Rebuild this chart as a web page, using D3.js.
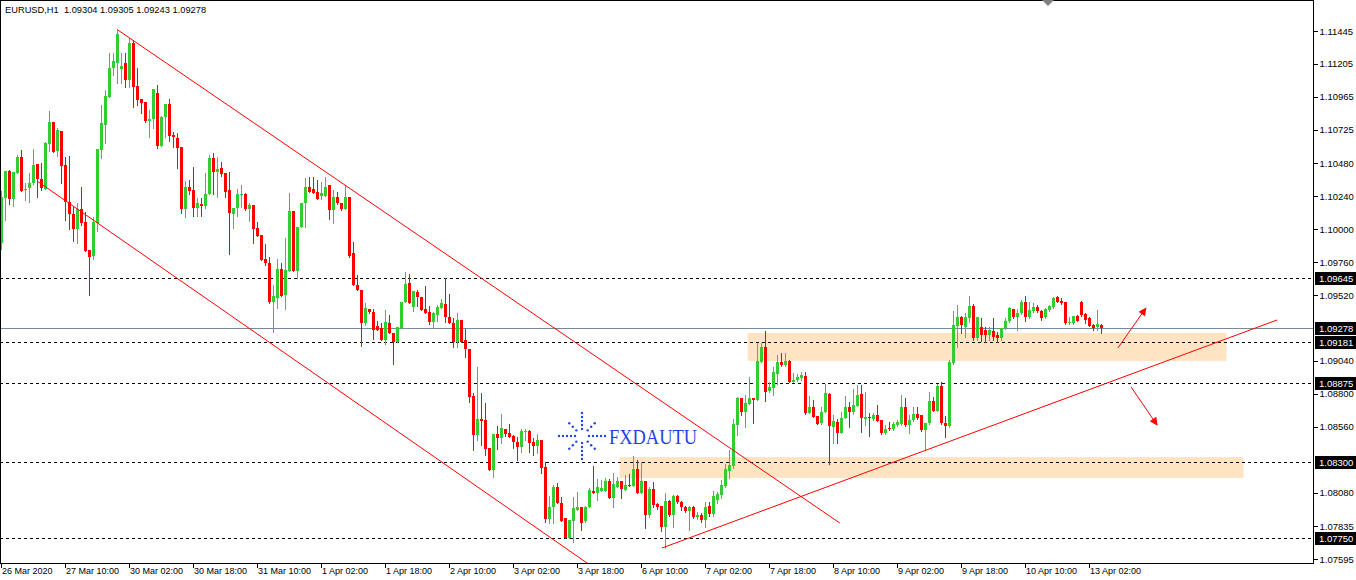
<!DOCTYPE html>
<html><head><meta charset="utf-8">
<script src="https://cdn.jsdelivr.net/npm/d3@7"></script>
<style>
html,body{margin:0;padding:0;background:#fff;}
svg{display:block;font-family:"Liberation Sans",Arial,sans-serif;}
</style></head><body>
<svg id="chart" width="1356" height="580"></svg>
<script>
// ---------------- DATA ----------------
const symbolTitle = "EURUSD,H1  1.09304 1.09305 1.09243 1.09278";
const timeLabels = ["26 Mar 2020","27 Mar 10:00","30 Mar 02:00","30 Mar 18:00","31 Mar 10:00","1 Apr 02:00","1 Apr 18:00","2 Apr 10:00","3 Apr 02:00","3 Apr 18:00","6 Apr 10:00","7 Apr 02:00","7 Apr 18:00","8 Apr 10:00","9 Apr 02:00","9 Apr 18:00","10 Apr 10:00","13 Apr 02:00"];
const timeLabelBars = [0,16,32,48,64,80,96,112,128,144,160,176,192,208,224,240,256,272];
const priceTicks = [1.11445,1.11205,1.10965,1.10725,1.10480,1.10240,1.10000,1.09760,1.09520,1.09040,1.08800,1.08560,1.08080,1.07835,1.07595];
const levelLines = [1.09645,1.09181,1.08875,1.08300,1.07750];
const bidPrice = 1.09278;

const opens = [1.09899,1.10227,1.10424,1.10219,1.10409,1.10526,1.10285,1.10300,1.10336,1.10475,1.10365,1.10292,1.10621,1.10781,1.10570,1.10716,1.10468,1.10198,1.10111,1.10001,1.10147,1.10052,1.09848,1.09804,1.10045,1.10577,1.10760,1.10964,1.11175,1.11211,1.11168,1.11211,1.11088,1.11357,1.11044,1.10949,1.10927,1.10789,1.10803,1.10993,1.10606,1.10818,1.10913,1.10687,1.10665,1.10599,1.10147,1.10307,1.10285,1.10155,1.10184,1.10169,1.10256,1.10519,1.10416,1.10446,1.10409,1.10285,1.10111,1.10155,1.10249,1.10256,1.10147,1.10176,1.10009,1.09958,1.09782,1.09753,1.09469,1.09498,1.09709,1.09520,1.09695,1.10133,1.09695,1.10016,1.10191,1.10307,1.10293,1.10271,1.10242,1.10242,1.10322,1.10140,1.10234,1.10191,1.10147,1.10234,1.09826,1.09592,1.09556,1.09316,1.09418,1.09396,1.09294,1.09279,1.09192,1.09316,1.09243,1.09177,1.09279,1.09469,1.09607,1.09432,1.09542,1.09505,1.09418,1.09396,1.09323,1.09374,1.09425,1.09454,1.09359,1.09316,1.09177,1.09338,1.09192,1.09126,1.08783,1.08499,1.08615,1.08608,1.08404,1.08244,1.08507,1.08478,1.08542,1.08514,1.08492,1.08448,1.08412,1.08521,1.08529,1.08448,1.08419,1.08463,1.08266,1.07886,1.07973,1.08120,1.08003,1.07893,1.07748,1.07872,1.07952,1.07973,1.07872,1.07973,1.08091,1.08076,1.08091,1.08091,1.08164,1.08040,1.08120,1.08164,1.08098,1.08134,1.08127,1.08251,1.08076,1.08164,1.07915,1.08105,1.07996,1.07981,1.07828,1.08018,1.07915,1.08054,1.08010,1.07973,1.07945,1.07973,1.07901,1.07915,1.07879,1.07981,1.07923,1.08025,1.08061,1.08127,1.08237,1.08273,1.08572,1.08769,1.08666,1.08725,1.08769,1.08754,1.09031,1.09141,1.08820,1.08842,1.08944,1.09031,1.09010,1.09039,1.08886,1.08900,1.08915,1.08929,1.08659,1.08703,1.08637,1.08586,1.08666,1.08798,1.08557,1.08594,1.08514,1.08623,1.08703,1.08666,1.08710,1.08798,1.08615,1.08630,1.08615,1.08645,1.08608,1.08514,1.08550,1.08542,1.08572,1.08579,1.08703,1.08572,1.08608,1.08652,1.08645,1.08536,1.08586,1.08747,1.08674,1.08856,1.08586,1.08564,1.09024,1.09294,1.09359,1.09287,1.09352,1.09440,1.09206,1.09287,1.09265,1.09228,1.09257,1.09228,1.09206,1.09279,1.09330,1.09418,1.09359,1.09389,1.09469,1.09359,1.09403,1.09432,1.09403,1.09359,1.09411,1.09432,1.09505,1.09476,1.09469,1.09316,1.09316,1.09367,1.09469,1.09381,1.09352,1.09301,1.09287,1.09304];
const highs = [1.10278,1.10373,1.10431,1.10416,1.10541,1.10577,1.10336,1.10409,1.10584,1.10475,1.10482,1.10635,1.10862,1.10781,1.10738,1.10716,1.10526,1.10533,1.10162,1.10191,1.10307,1.10125,1.09848,1.10089,1.10584,1.10906,1.11015,1.11284,1.11284,1.11459,1.11284,1.11284,1.11394,1.11379,1.11175,1.10949,1.10927,1.10869,1.11022,1.11051,1.10825,1.10913,1.10949,1.10709,1.10701,1.10599,1.10351,1.10358,1.10453,1.10227,1.10227,1.10409,1.10541,1.10555,1.10526,1.10490,1.10409,1.10416,1.10155,1.10292,1.10322,1.10264,1.10191,1.10176,1.10052,1.09958,1.09892,1.09797,1.09592,1.09782,1.09753,1.09936,1.10264,1.10133,1.10016,1.10191,1.10373,1.10380,1.10380,1.10358,1.10344,1.10380,1.10322,1.10285,1.10271,1.10191,1.10322,1.10234,1.09907,1.09665,1.09556,1.09461,1.09418,1.09418,1.09330,1.09316,1.09411,1.09374,1.09243,1.09287,1.09469,1.09688,1.09673,1.09549,1.09556,1.09505,1.09585,1.09440,1.09396,1.09447,1.09491,1.09644,1.09527,1.09352,1.09389,1.09338,1.09272,1.09126,1.08805,1.08995,1.08805,1.08732,1.08404,1.08507,1.08564,1.08652,1.08542,1.08579,1.08499,1.08485,1.08542,1.08542,1.08536,1.08478,1.08507,1.08463,1.08302,1.08054,1.08134,1.08149,1.08047,1.07893,1.07879,1.08047,1.08083,1.07973,1.07981,1.08112,1.08273,1.08178,1.08171,1.08186,1.08178,1.08222,1.08193,1.08164,1.08208,1.08215,1.08346,1.08317,1.08302,1.08164,1.08120,1.08156,1.08003,1.07981,1.08076,1.08025,1.08061,1.08061,1.08018,1.07981,1.07981,1.07981,1.07937,1.07930,1.08010,1.08010,1.08091,1.08083,1.08171,1.08288,1.08390,1.08615,1.08776,1.08769,1.08791,1.08922,1.08769,1.09170,1.09170,1.09257,1.08886,1.08995,1.09082,1.09097,1.09097,1.09046,1.08951,1.08944,1.08958,1.08958,1.08783,1.08754,1.08637,1.08703,1.08871,1.08805,1.08645,1.08615,1.08666,1.08783,1.08739,1.08834,1.08864,1.08864,1.08813,1.08659,1.08659,1.08718,1.08608,1.08572,1.08594,1.08594,1.08608,1.08791,1.08769,1.08645,1.08703,1.08703,1.08645,1.08586,1.08813,1.08776,1.08871,1.08886,1.08637,1.09046,1.09403,1.09447,1.09367,1.09389,1.09512,1.09454,1.09359,1.09352,1.09287,1.09287,1.09352,1.09250,1.09279,1.09352,1.09432,1.09418,1.09418,1.09483,1.09512,1.09469,1.09461,1.09447,1.09411,1.09425,1.09447,1.09505,1.09512,1.09498,1.09469,1.09359,1.09367,1.09374,1.09476,1.09389,1.09359,1.09309,1.09411,1.09305];
const lows = [1.09855,1.10067,1.10184,1.10169,1.10409,1.10278,1.10213,1.10198,1.10329,1.10234,1.10285,1.10292,1.10570,1.10562,1.10533,1.10336,1.10067,1.10001,1.09914,1.09899,1.10031,1.09841,1.09520,1.09782,1.09987,1.10519,1.10628,1.10964,1.11124,1.11066,1.11066,1.11037,1.11037,1.10891,1.10906,1.10847,1.10781,1.10672,1.10738,1.10592,1.10606,1.10672,1.10643,1.10599,1.10446,1.10118,1.10089,1.10256,1.10096,1.10096,1.10096,1.10155,1.10256,1.10256,1.10234,1.10387,1.10234,1.09819,1.10009,1.10096,1.10162,1.10140,1.10060,1.09899,1.09950,1.09775,1.09738,1.09461,1.09250,1.09425,1.09512,1.09418,1.09695,1.09695,1.09644,1.10016,1.10016,1.10271,1.10264,1.10220,1.10220,1.10242,1.10074,1.10045,1.10184,1.10140,1.10147,1.09797,1.09592,1.09556,1.09148,1.09301,1.09389,1.09199,1.09265,1.09192,1.09163,1.09243,1.09017,1.09177,1.09279,1.09469,1.09461,1.09403,1.09440,1.09411,1.09389,1.09309,1.09287,1.09330,1.09425,1.09323,1.09316,1.09141,1.09141,1.09177,1.09068,1.08739,1.08390,1.08463,1.08426,1.08354,1.08244,1.08193,1.08397,1.08441,1.08492,1.08485,1.08404,1.08317,1.08375,1.08463,1.08375,1.08354,1.08368,1.08222,1.07864,1.07857,1.07857,1.08003,1.07872,1.07748,1.07748,1.07718,1.07952,1.07806,1.07864,1.07973,1.08076,1.08025,1.08091,1.08091,1.08040,1.07973,1.08120,1.08040,1.08098,1.08127,1.08127,1.08076,1.08076,1.07820,1.07901,1.07973,1.07959,1.07799,1.07675,1.07908,1.07828,1.08003,1.07952,1.07937,1.07806,1.07893,1.07886,1.07864,1.07828,1.07908,1.07908,1.08003,1.08040,1.08120,1.08186,1.08258,1.08499,1.08645,1.08557,1.08725,1.08586,1.08754,1.09031,1.08747,1.08813,1.08791,1.08871,1.09002,1.09002,1.08886,1.08886,1.08893,1.08900,1.08652,1.08659,1.08630,1.08579,1.08579,1.08666,1.08288,1.08441,1.08441,1.08514,1.08623,1.08557,1.08652,1.08710,1.08521,1.08572,1.08492,1.08608,1.08601,1.08507,1.08507,1.08536,1.08536,1.08564,1.08572,1.08564,1.08514,1.08601,1.08615,1.08529,1.08390,1.08579,1.08674,1.08674,1.08579,1.08485,1.08557,1.09017,1.09141,1.09243,1.09214,1.09323,1.09192,1.09192,1.09184,1.09177,1.09192,1.09192,1.09177,1.09192,1.09272,1.09323,1.09352,1.09265,1.09381,1.09330,1.09352,1.09396,1.09396,1.09338,1.09352,1.09403,1.09425,1.09469,1.09454,1.09309,1.09309,1.09309,1.09330,1.09367,1.09316,1.09294,1.09265,1.09265,1.09243];
const closes = [1.10234,1.10424,1.10219,1.10416,1.10526,1.10278,1.10292,1.10336,1.10468,1.10365,1.10300,1.10628,1.10781,1.10562,1.10723,1.10460,1.10198,1.10111,1.10001,1.10147,1.10045,1.09841,1.09797,1.10052,1.10584,1.10774,1.10971,1.11175,1.11226,1.11423,1.11190,1.11088,1.11357,1.11037,1.10942,1.10920,1.10789,1.10803,1.11022,1.10606,1.10818,1.10913,1.10679,1.10672,1.10592,1.10147,1.10307,1.10278,1.10155,1.10191,1.10169,1.10256,1.10519,1.10416,1.10438,1.10402,1.10271,1.10118,1.10155,1.10256,1.10256,1.10147,1.10176,1.10001,1.09950,1.09775,1.09753,1.09469,1.09512,1.09709,1.09512,1.09702,1.10133,1.09695,1.10016,1.10191,1.10307,1.10271,1.10264,1.10220,1.10264,1.10307,1.10140,1.10234,1.10191,1.10147,1.10234,1.09804,1.09592,1.09556,1.09316,1.09425,1.09396,1.09265,1.09265,1.09192,1.09323,1.09243,1.09177,1.09287,1.09469,1.09600,1.09461,1.09549,1.09505,1.09411,1.09389,1.09323,1.09389,1.09432,1.09461,1.09359,1.09316,1.09177,1.09338,1.09177,1.09126,1.08776,1.08499,1.08615,1.08601,1.08397,1.08244,1.08507,1.08478,1.08550,1.08507,1.08485,1.08448,1.08412,1.08529,1.08529,1.08441,1.08419,1.08463,1.08258,1.07886,1.07973,1.08120,1.08003,1.07872,1.07748,1.07879,1.07966,1.07973,1.07857,1.07973,1.08098,1.08076,1.08120,1.08112,1.08164,1.08040,1.08142,1.08164,1.08105,1.08134,1.08127,1.08251,1.08076,1.08164,1.07915,1.08105,1.07988,1.07973,1.07828,1.08018,1.07915,1.08054,1.08010,1.07973,1.07945,1.07973,1.07901,1.07915,1.07879,1.07973,1.07923,1.08054,1.08069,1.08134,1.08251,1.08281,1.08579,1.08769,1.08666,1.08732,1.08769,1.08754,1.09039,1.09141,1.08813,1.08849,1.08958,1.09031,1.09010,1.09039,1.08886,1.08900,1.08922,1.08937,1.08659,1.08703,1.08630,1.08579,1.08666,1.08805,1.08564,1.08601,1.08514,1.08623,1.08703,1.08666,1.08718,1.08791,1.08623,1.08630,1.08623,1.08645,1.08601,1.08514,1.08542,1.08542,1.08579,1.08594,1.08703,1.08572,1.08608,1.08652,1.08623,1.08536,1.08586,1.08747,1.08674,1.08856,1.08586,1.08564,1.09031,1.09301,1.09359,1.09301,1.09359,1.09440,1.09206,1.09359,1.09228,1.09228,1.09265,1.09214,1.09206,1.09279,1.09330,1.09425,1.09359,1.09389,1.09469,1.09359,1.09411,1.09432,1.09403,1.09352,1.09418,1.09440,1.09498,1.09469,1.09461,1.09316,1.09323,1.09367,1.09330,1.09374,1.09338,1.09294,1.09279,1.09309,1.09278];

// drawn objects, in chart coordinates (bar index, price)
const zones = [
  {barFrom:186.9, barTo:306.6, priceTop:1.09243, priceBottom:1.09039},
  {barFrom:154.9, barTo:310.9, priceTop:1.08339, priceBottom:1.08186}
];
const trendLines = [
  {bar1:29.1, price1:1.11452, bar2:209.6, price2:1.07857},
  {bar1:8.9,  price1:1.10351, bar2:153.6, price2:1.07420},
  {bar1:165.1,price1:1.07675, bar2:318.9, price2:1.09338}
];
const arrows = [
  {bar1:279.1, price1:1.09134, bar2:286.1, price2:1.09425},
  {bar1:282.4, price1:1.08849, bar2:288.9, price2:1.08572}
];
const logoText = "FXDAUTU";

// ---------------- DRAW ----------------
const svg = d3.select("#chart");
const plotW = 1313, plotH = 563, nBarsView = 328;
const xEdge = d3.scaleLinear().domain([0, nBarsView]).range([0, plotW - 1]);
const xc = i => xEdge(i) + 1.5;
const y = d3.scaleLinear().domain([1.07566, 1.11671]).range([plotH, 0]);
const GREEN = "#32CD32", RED = "#FF0000";

svg.append("rect").attr("width",1356).attr("height",580).attr("fill","#fff");
svg.append("defs").append("clipPath").attr("id","plotClip")
  .append("rect").attr("x",0).attr("y",0).attr("width",plotW).attr("height",plotH);

const plot = svg.append("g").attr("clip-path","url(#plotClip)");

// zones (background)
plot.selectAll("rect.zone").data(zones).join("rect").attr("class","zone")
  .attr("x", d => xEdge(d.barFrom)).attr("width", d => xEdge(d.barTo) - xEdge(d.barFrom))
  .attr("y", d => y(d.priceTop)).attr("height", d => y(d.priceBottom) - y(d.priceTop))
  .attr("fill","#FFE4C4");

// horizontal level lines
plot.selectAll("line.level").data(levelLines).join("line").attr("class","level")
  .attr("x1",0).attr("x2",plotW)
  .attr("y1", d => Math.round(y(d)) + 0.5).attr("y2", d => Math.round(y(d)) + 0.5)
  .attr("stroke","#000").attr("stroke-dasharray","3,3").attr("shape-rendering","crispEdges");

// bid line
plot.append("line").attr("x1",0).attr("x2",plotW)
  .attr("y1", Math.round(y(bidPrice)) + 0.5).attr("y2", Math.round(y(bidPrice)) + 0.5)
  .attr("stroke","#778899").attr("shape-rendering","crispEdges");

// candles
const bars = d3.range(opens.length).map(i => ({i, o:opens[i], h:highs[i], l:lows[i], c:closes[i]}));
const cg = plot.append("g").attr("shape-rendering","crispEdges");
cg.selectAll("line.wick").data(bars).join("line").attr("class","wick")
  .attr("x1", d => Math.floor(xc(d.i)) + 0.5).attr("x2", d => Math.floor(xc(d.i)) + 0.5)
  .attr("y1", d => Math.round(y(d.h))).attr("y2", d => Math.round(y(d.l)) + 1)
  .attr("stroke", d => d.c >= d.o ? GREEN : RED);
cg.selectAll("rect.body").data(bars).join("rect").attr("class","body")
  .attr("x", d => Math.round(xEdge(d.i)))
  .attr("width", 3)
  .attr("y", d => Math.round(y(Math.max(d.o, d.c))))
  .attr("height", d => Math.max(1, Math.round(y(Math.min(d.o, d.c))) - Math.round(y(Math.max(d.o, d.c)))))
  .attr("fill", d => d.c >= d.o ? GREEN : RED);

// trendlines
plot.selectAll("line.trend").data(trendLines).join("line").attr("class","trend")
  .attr("x1", d => xc(d.bar1)).attr("y1", d => y(d.price1))
  .attr("x2", d => xc(d.bar2)).attr("y2", d => y(d.price2))
  .attr("stroke", RED).attr("stroke-width",1);

// arrows
const defs = svg.select("defs");
defs.append("marker").attr("id","arrowHead").attr("viewBox","0 0 10 10")
  .attr("refX",9).attr("refY",5).attr("markerWidth",10).attr("markerHeight",8)
  .attr("markerUnits","userSpaceOnUse").attr("orient","auto")
  .append("path").attr("d","M0,0 L10,5 L0,10 Z").attr("fill",RED);
plot.selectAll("line.arrow").data(arrows).join("line").attr("class","arrow")
  .attr("x1", d => xc(d.bar1)).attr("y1", d => y(d.price1))
  .attr("x2", d => xc(d.bar2)).attr("y2", d => y(d.price2))
  .attr("stroke", RED).attr("stroke-width",1).attr("marker-end","url(#arrowHead)");

// logo watermark
const logo = svg.append("g").attr("transform","translate(582,436)");
d3.range(8).forEach(k => {
  const a = k * Math.PI / 4;
  const radii = (k % 2 === 0) ? [7,11,15,19,23] : [8,13,18];
  radii.forEach(r => {
    logo.append("circle").attr("cx", r*Math.cos(a)).attr("cy", r*Math.sin(a))
      .attr("r", 1.2).attr("fill","#2443e6");
  });
});
svg.append("text").attr("x",609).attr("y",443.5).text(logoText)
  .attr("font-family","'Liberation Serif','DejaVu Serif',serif").attr("font-size",22)
  .attr("textLength",88).attr("lengthAdjust","spacingAndGlyphs").attr("fill","#1f3fe6");

// frame
svg.append("rect").attr("x",0.5).attr("y",0.5).attr("width",plotW-0.5).attr("height",plotH-0.5)
  .attr("fill","none").attr("stroke","#000").attr("shape-rendering","crispEdges");

// shift marker
svg.append("path").attr("d","M1042,0 L1054,0 L1048,6 Z").attr("fill","#808080");

// header
svg.append("text").attr("x",5).attr("y",13).text(symbolTitle)
  .attr("font-size",9.3).attr("fill","#000").style("white-space","pre").attr("xml:space","preserve");

// right price axis
const yAxis = d3.axisRight(y).tickValues(priceTicks).tickSize(4).tickPadding(2)
  .tickFormat(d3.format(".5f"));
const ya = svg.append("g").attr("transform",`translate(${plotW+0.5},0)`).call(yAxis);
ya.select(".domain").remove();
ya.selectAll("text").attr("font-size",9.5).attr("font-family","'Liberation Sans',Arial,sans-serif").attr("fill","#000");
ya.selectAll("line").attr("shape-rendering","crispEdges");

// bottom time axis
const xAxis = d3.axisBottom(xEdge).tickValues(timeLabelBars).tickSize(4).tickPadding(2)
  .tickFormat((d,k) => timeLabels[k]);
const xa = svg.append("g").attr("transform",`translate(0.5,${plotH+0.5})`).call(xAxis);
xa.select(".domain").remove();
xa.selectAll("text").attr("text-anchor","start").attr("dx",1).attr("dy","0.55em")
  .attr("font-size",9).attr("font-family","'Liberation Sans',Arial,sans-serif").attr("fill","#000");
xa.selectAll("line").attr("shape-rendering","crispEdges");

// price labels for levels and bid
const markers = levelLines.map(v => ({v})).concat([{v:bidPrice}]);
const mg = svg.append("g");
mg.selectAll("rect").data(markers).join("rect")
  .attr("x", plotW + 2).attr("width", 1356 - plotW - 2)
  .attr("y", d => Math.round(y(d.v)) - 6).attr("height", 13).attr("fill","#000");
mg.selectAll("text").data(markers).join("text")
  .attr("x", plotW + 6).attr("y", d => Math.round(y(d.v)) + 4)
  .text(d => d3.format(".5f")(d.v))
  .attr("font-size",9.5).attr("fill","#fff");
</script>
</body></html>
